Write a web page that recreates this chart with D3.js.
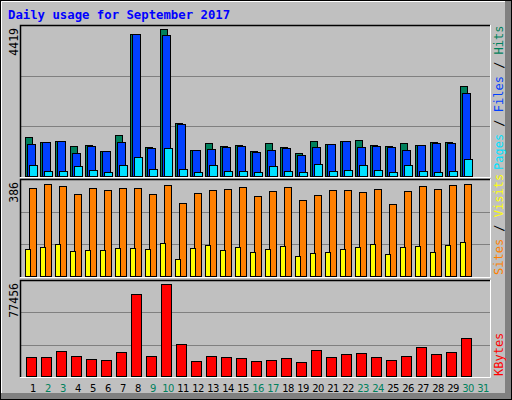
<!DOCTYPE html><html><head><meta charset="utf-8">
<script src="https://cdn.jsdelivr.net/npm/d3@7"></script>
<style>body{margin:0;background:#fff}svg{display:block}</style></head><body>
<script>
const days = d3.range(1,32);
const weekend = [2,3,9,10,16,17,23,24,30,31];
const hits = [1172,1022,1052,902,932,752,1232,4269,872,4419,1593,782,992,902,932,752,992,872,691,1052,962,1052,1082,932,902,992,932,1022,1022,2705];
const files = [962,1022,1052,691,902,752,1022,4269,842,4238,1563,782,812,872,902,721,782,842,631,872,962,1052,872,902,872,782,932,992,992,2495];
const pages = [331,150,150,301,180,120,331,571,210,842,210,120,331,150,150,120,301,150,120,361,150,180,331,180,120,331,150,120,150,511];
const sites = [369,386,378,344,369,361,369,369,344,382,306,348,361,365,373,335,357,373,319,340,361,361,352,365,302,357,378,365,382,386];
const visits = [112,121,133,104,108,108,116,116,112,138,70,116,129,108,121,100,112,125,83,95,100,112,121,133,91,121,125,100,129,142];
const kbytes = [15773,15773,20843,16618,14083,13238,19998,69007,16618,77456,26758,12393,16618,15773,14928,12393,13238,14928,11548,21688,15773,18308,19153,15773,13238,16618,24223,18308,19998,31828];
const C = {hits:"#00805c",files:"#0040ff",pages:"#00e0ff",visits:"#ffff00",sites:"#ff8000",kb:"#ff0000"};
const W=512,H=400,X0=20,X1=490;
const svg=d3.select("body").append("svg").attr("width",W).attr("height",H);
svg.append("rect").attr("width",W).attr("height",H).attr("fill","#c0c0c0");
svg.append("rect").attr("x",0.5).attr("y",0.5).attr("width",W-1).attr("height",H-1).attr("fill","none").attr("stroke","#000");
svg.append("path").attr("d",`M1.5,${H-2}V1.5H${W-2}`).attr("stroke","#fff").attr("fill","none");
svg.append("rect").attr("x",W-7).attr("y",1).attr("width",6).attr("height",H-2).attr("fill","#808080");
svg.append("rect").attr("x",1).attr("y",H-7).attr("width",W-2).attr("height",6).attr("fill","#808080");
svg.append("text").attr("x",8).attr("y",19).text("Daily usage for September 2017")
  .attr("font-family","DejaVu Sans Mono").attr("font-weight","bold").attr("font-size",12.3).attr("fill","#0000ff");
const x=d3.scaleBand().domain(days).range([X0+1,X0+1+15*31]);
function panel(top,bot,max,ymaxPx,label){
  svg.append("rect").attr("x",X0).attr("y",top).attr("width",X1-X0).attr("height",bot-top).attr("fill","#c0c0c0");
  const y=d3.scaleLinear().domain([0,max]).range([bot-1,ymaxPx]);
  const h=bot-top;
  [1,2].forEach(k=>svg.append("line").attr("x1",X0).attr("x2",X1).attr("y1",Math.round(top+h*k/3)+0.5).attr("y2",Math.round(top+h*k/3)+0.5).attr("stroke","#808080"));
  svg.append("path").attr("d",`M${X0+0.5},${bot}V${top+0.5}H${X1}`).attr("stroke","#000").attr("stroke-width",1.5).attr("fill","none");
  svg.append("path").attr("d",`M${X0},${bot+0.5}H${X1+0.5}V${top}`).attr("stroke","#fff").attr("fill","none");
  svg.append("text").attr("transform",`translate(18,${top+3}) rotate(-90)`).attr("text-anchor","end")
    .attr("font-family","DejaVu Sans Mono").attr("font-size",11.5).text(label);
  return y;
}
function bars(data,y,off,w,color){
  svg.append("g").selectAll("rect").data(data).join("rect")
    .attr("x",(d,i)=>x(i+1)+off+0.5).attr("width",w).attr("y",d=>Math.round(y(d))+0.5)
    .attr("height",d=>y(0)-Math.round(y(d))).attr("fill",color).attr("stroke","#000");
}
const y1=panel(25,177,4419,29,"4419");
bars(hits,y1,4,7,C.hits); bars(files,y1,6,8,C.files); bars(pages,y1,8,8,C.pages);
const y2=panel(179,277,386,184,"386");
bars(sites,y2,8,7,C.sites); bars(visits,y2,4,5,C.visits);
const y3=panel(280,377,77456,284,"77456");
bars(kbytes,y3,5,10,C.kb);
svg.append("g").selectAll("text").data(days).join("text")
  .attr("x",d=>x(d)+12).attr("y",392).attr("text-anchor","middle")
  .attr("font-family","DejaVu Sans").attr("font-size",10).attr("letter-spacing",-0.6)
  .attr("fill",d=>weekend.includes(d)?"#00805c":"#000").text(d=>d);
function rlabel(yb,parts){
  const t=svg.append("text").attr("transform",`translate(503,${yb}) rotate(-90)`)
    .attr("font-family","DejaVu Sans Mono").attr("font-size",12);
  parts.forEach(([s,c])=>t.append("tspan").attr("fill",c).text(s));
}
rlabel(170,[["Pages",C.pages],[" / ","#000"],["Files",C.files],[" / ","#000"],["Hits",C.hits]]);
rlabel(275,[["Sites",C.sites],[" / ","#000"],["Visits",C.visits]]);
rlabel(376,[["KBytes",C.kb]]);
</script></body></html>
